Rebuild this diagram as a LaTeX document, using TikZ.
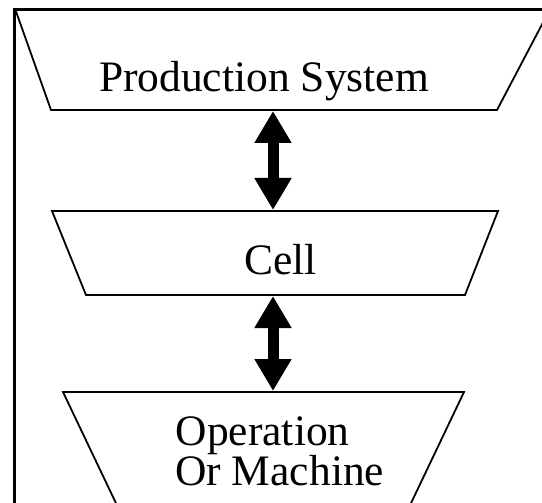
\documentclass[tikz,border=0pt]{standalone}
\usepackage{fontspec}
\setmainfont{Liberation Serif}
\usepackage{tikz}
\usetikzlibrary{arrows.meta}

\begin{document}
\begin{tikzpicture}[x=1pt, y=-1pt,
    frame/.style={line width=3pt, line cap=rect},
    level/.style={line width=1.8pt, line join=miter},
    lbl/.style={inner sep=0pt, font=\fontsize{43.5}{40}\selectfont},
    link/.style={line width=11pt,
      {Triangle[length=32pt, width=35pt]}-{Triangle[length=32pt, width=35pt]}}]
      \useasboundingbox (0,0) rectangle (542,503);
      \clip (0,0) rectangle (542,503);
      % outer frame, cut at the right and bottom
      \draw[frame] (14.5,540) -- (14.5,10) -- (560,10);
      % the three levels
      \draw[level] (15.5,10) -- (51,110) -- (497,110) -- (548,13);
      \draw[level] (52,211) -- (498,211) -- (465,295) -- (86,295) -- cycle;
      \draw[level] (124,520) -- (63,392) -- (464,392) -- (403,520);
      \node[lbl, anchor=base] (prod) at (264,92) {Production System};
      \node[lbl, anchor=base] (cell) at (280.5,275) {Cell};
      \node[lbl, anchor=base west] (oper) at (175.5,445) {Operation};
      \node[lbl, anchor=base west] (mach) at (175,485) {Or Machine};
      % ends of the links
      \coordinate (prod-b) at (273,111);
      \coordinate (cell-t) at (273,210);
      \coordinate (cell-b) at (273,296);
      \coordinate (oper-t) at (273,391);
      \draw[link] (prod-b) -- (cell-t);
      \draw[link] (cell-b) -- (oper-t);
    \end{tikzpicture}
\end{document}
